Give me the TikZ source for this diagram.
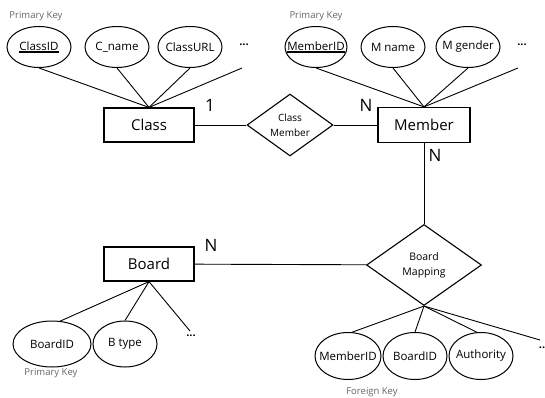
\documentclass[tikz,border=0pt]{standalone}
\usepackage{fontspec}
\setmainfont{Open Sans}
\usetikzlibrary{shapes.geometric}

\newcommand{\pkey}[1]{\vtop{\hbox{#1}\kern1pt\hrule height 1.4pt}}

\begin{document}
\begin{tikzpicture}[x=1pt,y=-1pt,
    entity/.style={draw,line width=1.2pt,minimum width=90pt,minimum height=34pt,inner sep=0pt,font=\fontsize{15}{17}\selectfont},
    attrib/.style={draw,line width=1pt,ellipse,minimum width=64pt,minimum height=41pt,inner sep=0pt,font=\fontsize{11.5}{13}\selectfont,
        execute at begin node={\hbox to 0pt\bgroup\hss}, execute at end node={\hss\egroup}},
    relation/.style={draw,line width=1.1pt,diamond,inner sep=0pt,align=center},
    keylabel/.style={text=black!60,font=\fontsize{9.5}{11}\selectfont},
    card/.style={font=\fontsize{17}{19}\selectfont},
    more/.style={font=\bfseries\fontsize{11}{12}\selectfont},
    conn/.style={line width=0.9pt}]
    \useasboundingbox (0,0) rectangle (545,398);

    % entities and relations
    \node[entity] (class) at (149,125) {Class};
    \node[relation,minimum width=86pt,minimum height=57pt,font=\fontsize{10}{14.5}\selectfont] (classmember) at (290,125) {Class\\Member};
    \node[entity,minimum width=92pt,minimum height=35pt] (member) at (424,125) {Member};
    \node[entity] (board) at (149,264) {Board};
    \node[relation,minimum width=115pt,minimum height=81pt,font=\fontsize{10.5}{15}\selectfont] (boardmapping) at (424,265) {Board\\Mapping};

    % class attributes
    \node[keylabel] (pk1) at (36,16) {Primary Key};
    \node[attrib] (classid) at (39,47) {\pkey{ClassID}};
    \node[attrib] (cname) at (117,47) {C\_name};
    \node[attrib] (classurl) at (190,47) {ClassURL};
    \node[more] (dots1) at (244,45) {...};
    \coordinate (end1) at (242,68);

    % member attributes
    \node[keylabel] (pk2) at (316,16) {Primary Key};
    \node[attrib,minimum width=62pt] (memberid) at (316,47) {\pkey{MemberID}};
    \node[attrib] (mname) at (393,47) {M name};
    \node[attrib] (mgender) at (468,47) {M gender};
    \node[more] (dots2) at (522,45) {...};
    \coordinate (end2) at (518,68);

    % board attributes
    \node[attrib,minimum width=78pt,minimum height=46pt] (boardid) at (52,344) {BoardID};
    \node[attrib,minimum height=46pt] (btype) at (125,344) {B type};
    \node[more] (dots3) at (191,336) {...};
    \coordinate (end3) at (190,331);
    \node[keylabel] (pk3) at (51,373) {Primary Key};

    % board mapping attributes
    \node[attrib,minimum width=66pt,minimum height=47pt] (memberid2) at (348,356) {MemberID};
    \node[attrib,minimum height=47pt] (boardid2) at (415,356) {BoardID};
    \node[attrib,minimum height=47pt] (authority) at (481,356) {Authority};
    \node[more] (dots4) at (542,348) {..};
    \coordinate (end4) at (540,340);
    \node[keylabel] (fk) at (372,392) {Foreign Key};

    % cardinalities
    \node[card] (c1) at (210,105) {1};
    \node[card] (c2) at (366,105) {N};
    \node[card] (c3) at (435,155) {N};
    \node[card] (c4) at (211,245) {N};

    % connectors
    \draw[conn] (class) -- (classmember);
    \draw[conn] (classmember) -- (member);
    \draw[conn] (member) -- (boardmapping);
    \draw[conn] (board) -- (boardmapping);

    \draw[conn] (classid.south) -- (class.north);
    \draw[conn] (cname.south) -- (class.north);
    \draw[conn] (classurl.south) -- (class.north);
    \draw[conn] (end1) -- (class.north);

    \draw[conn] (memberid.south) -- (member.north);
    \draw[conn] (mname.south) -- (member.north);
    \draw[conn] (mgender.south) -- (member.north);
    \draw[conn] (end2) -- (member.north);

    \draw[conn] (board.south) -- (boardid.70);
    \draw[conn] (board.south) -- (btype.north);
    \draw[conn] (board.south) -- (end3);

    \draw[conn] (boardmapping.south) -- (memberid2.80);
    \draw[conn] (boardmapping.south) -- (boardid2.north);
    \draw[conn] (boardmapping.south) -- (authority.100);
    \draw[conn] (boardmapping.south) -- (end4);
\end{tikzpicture}
\end{document}
